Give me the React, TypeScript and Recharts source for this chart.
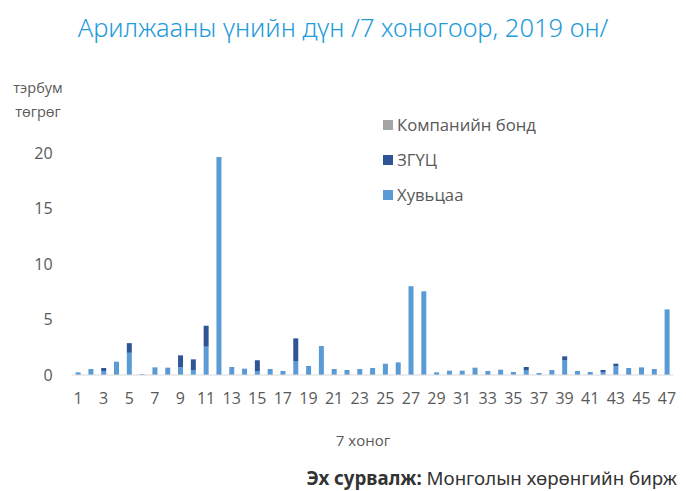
import React from "react";
import { BarChart, Bar, XAxis, YAxis } from "recharts";

const weeks = Array.from({ length: 47 }, (_, i) => String(i + 1));
const shares = [0.24, 0.54, 0.35, 1.2, 2.0, 0.08, 0.69, 0.66, 0.72, 0.45, 2.55, 19.65, 0.72, 0.57, 0.36, 0.54, 0.36, 1.26, 0.81, 2.61, 0.54, 0.45, 0.54, 0.63, 1.02, 1.14, 8.0, 7.54, 0.24, 0.39, 0.39, 0.66, 0.36, 0.48, 0.27, 0.45, 0.18, 0.45, 1.35, 0.36, 0.27, 0.27, 0.78, 0.63, 0.69, 0.54, 5.91];
const govBonds = [0, 0, 0.28, 0, 0.87, 0, 0, 0, 1.05, 0.96, 1.89, 0, 0, 0, 0.96, 0, 0, 2.04, 0, 0, 0, 0, 0, 0, 0, 0, 0, 0, 0, 0, 0, 0, 0, 0, 0, 0.27, 0, 0, 0.33, 0, 0, 0.18, 0.24, 0, 0, 0, 0];
const corpBonds = [0, 0, 0, 0, 0, 0, 0, 0, 0, 0, 0, 0, 0, 0, 0, 0, 0, 0, 0, 0, 0, 0, 0, 0, 0, 0, 0, 0, 0, 0, 0, 0, 0, 0, 0, 0, 0, 0, 0, 0, 0, 0, 0, 0, 0, 0, 0];
const yTicks = [0, 5, 10, 15, 20];
const seriesNames = ["Компанийн бонд", "ЗГҮЦ", "Хувьцаа"];
const seriesColors = ["#A5A5A5", "#2F5597", "#5B9BD5"];

const data = weeks.map((w, i) => ({
  week: w,
  shares: shares[i],
  gov: govBonds[i],
  corp: corpBonds[i],
}));

const FONT = "'Open Sans', sans-serif";
const TXT = "#595959";

export default function App() {
  return (
    <div style={{ position: "absolute", left: 0, top: 0, width: 686, height: 491, background: "#fff", fontFamily: FONT }}>
      <div style={{ position: "absolute", left: 0, top: 10, width: 686, textAlign: "center", color: "#1E9BDA", fontSize: 25.5, lineHeight: "34px", fontFamily: "'Noto Sans', sans-serif", fontWeight: 300, whiteSpace: "nowrap" }}>
        Арилжааны үнийн дүн /7 хоногоор, 2019 он/
      </div>
      <div style={{ position: "absolute", left: 8, top: 76, width: 60, textAlign: "center", color: TXT, fontSize: 14.5, lineHeight: "24px" }}>
        тэрбум<br />төгрөг
      </div>
      <BarChart
        width={686}
        height={491}
        data={data}
        margin={{ top: 153, right: 12.6, bottom: 86, left: 0 }}
        barSize={5}
        style={{ position: "absolute", left: 0, top: 0 }}
      >
        <XAxis
          dataKey="week"
          interval={1}
          tickLine={false}
          tickSize={0}
          tickMargin={18}
          axisLine={{ stroke: "#D9D9D9" }}
          tick={{ fill: TXT, fontSize: 16, fontFamily: FONT }}
          height={30}
        />
        <YAxis
          domain={[0, 20]}
          ticks={yTicks}
          width={71.6}
          tickLine={false}
          axisLine={false}
          tickSize={0}
          tickMargin={19}
          tick={{ fill: TXT, fontSize: 16, fontFamily: FONT }}
        />
        <Bar dataKey="shares" stackId="a" fill="#5B9BD5" isAnimationActive={false} />
        <Bar dataKey="gov" stackId="a" fill="#2F5597" isAnimationActive={false} />
        <Bar dataKey="corp" stackId="a" fill="#A5A5A5" isAnimationActive={false} />
      </BarChart>
      <div style={{ position: "absolute", left: 383, top: 107 }}>
        {seriesNames.map((n, i) => (
          <div key={n} style={{ display: "flex", alignItems: "center", height: 35, color: TXT, fontSize: 16.7 }}>
            <span style={{ display: "inline-block", width: 10, height: 10, background: seriesColors[i], marginRight: 4 }} />
            {n}
          </div>
        ))}
      </div>
      <div style={{ position: "absolute", left: 0, top: 430, width: 726, textAlign: "center", color: TXT, fontSize: 15 }}>7 хоног</div>
      <div style={{ position: "absolute", right: 9, top: 465, color: "#333", fontSize: 18.7, fontFamily: "'Noto Sans', sans-serif", whiteSpace: "nowrap" }}>
        <b>Эх сурвалж:</b> Монголын хөрөнгийн бирж
      </div>
    </div>
  );
}
